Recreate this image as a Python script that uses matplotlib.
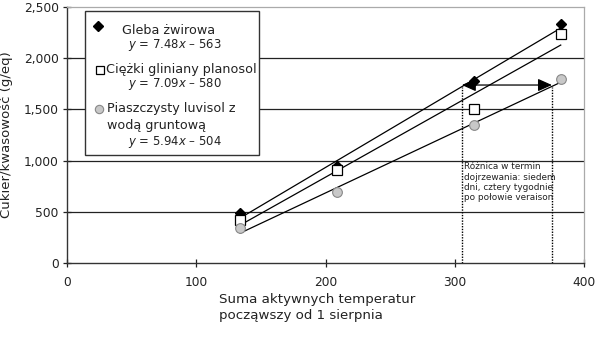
import matplotlib
matplotlib.use("Agg")
import matplotlib.pyplot as plt
from matplotlib.patches import Rectangle
import numpy as np

# ---- data ----
x_vals = [134, 209, 315, 382]
gravel = [490, 950, 1778, 2334]
clay = [416, 905, 1502, 2238]
sandy = [337, 698, 1351, 1796]

slopes = [7.48, 7.09, 5.94]
intercepts = [-563, -580, -504]

series_names = ["Gleba żwirowa", "Ciężki gliniany planosol", "Piaszczysty luvisol z\nwodą gruntową"]
equations = ["$y$ = 7.48$x$ \u2013 563", "$y$ = 7.09$x$ \u2013 580", "$y$ = 5.94$x$ \u2013 504"]

x_ticks = [0, 100, 200, 300, 400]
y_ticks = [0, 500, 1000, 1500, 2000, 2500]
y_tick_labels = ["0", "500", "1,000", "1,500", "2,000", "2,500"]

arrow_y = 1738
arrow_x = [305.5, 375.2]
note = "Różnica w termin\ndojrzewania: siedem\ndni, cztery tygodnie\npo połowie veraison"

plt.rcParams['font.family'] = ['DejaVu Sans']
plt.rcParams['mathtext.fontset'] = 'dejavusans'

fig = plt.figure(figsize=(5.99, 3.44), dpi=100)
ax = fig.add_axes([67/599, 1-263/344, (584-67)/599, (263-7)/344])

ax.set_xlim(0, 400)
ax.set_ylim(0, 2500)

# gridlines
for yv in y_ticks[1:-1]:
    ax.axhline(yv, color='#222222', lw=0.9, zorder=1)

# regression lines
xl = np.array([x_vals[0], x_vals[-1]])
for s, b in zip(slopes, intercepts):
    ax.plot(xl, s*xl + b, color='black', lw=0.9, zorder=2)

# markers
ax.plot(x_vals, gravel, linestyle='none', marker='D', ms=5, mfc='black', mec='black', zorder=4)
ax.plot(x_vals, clay, linestyle='none', marker='s', ms=7, mfc='white', mec='black', mew=0.9, zorder=4)
ax.plot(x_vals, sandy, linestyle='none', marker='o', ms=7, mfc='#c8c8c8', mec='#888888', mew=0.8, zorder=4)

# dotted verticals and double arrow
for xa in arrow_x:
    ax.plot([xa, xa], [0, arrow_y - 20], color='black', lw=1.0, ls=(0, (1, 1)), zorder=3)
ax.annotate('', xy=(arrow_x[0], arrow_y), xytext=(arrow_x[1], arrow_y),
            arrowprops=dict(arrowstyle='<|-|>,head_length=0.85,head_width=0.38',
                            color='black', lw=0.9, shrinkA=0, shrinkB=0), zorder=5)

ax.text(307, 985, note, fontsize=6.4, va='top', ha='left', color='#222222', linespacing=1.2, zorder=5)

# ticks & spines
ax.set_xticks(x_ticks)
ax.set_yticks(y_ticks)
ax.set_yticklabels(y_tick_labels)
ax.tick_params(axis='both', direction='inout', length=6, width=0.9, colors='#222222', labelsize=8.8)
ax.tick_params(axis='x', pad=6)
ax.tick_params(axis='y', pad=3)
for side in ['top', 'right']:
    ax.spines[side].set_color('#aaaaaa')
    ax.spines[side].set_linewidth(0.9)
for side in ['left', 'bottom']:
    ax.spines[side].set_color('#333333')
    ax.spines[side].set_linewidth(1.0)

ax.set_ylabel("Cukier/kwasowość (g/eq)", fontsize=9.5, color='#222222')
ax.yaxis.set_label_coords((13 - 67) / 517, 0.5)
fig.text(219/599, 1-293/344, "Suma aktywnych temperatur\npocząwszy od 1 sierpnia",
         fontsize=9.6, ha='left', va='top', color='#222222', linespacing=1.3)

# legend box (manual)
def fx(px):
    return (px - 67) / 517
def fy(py):
    return (263 - py) / 256

box = Rectangle((fx(85), fy(155)), fx(259) - fx(85), fy(11) - fy(155),
                transform=ax.transAxes, facecolor='white', edgecolor='#333333', lw=1.0, zorder=6)
ax.add_patch(box)

mk = dict(transform=ax.transAxes, linestyle='none', zorder=7, clip_on=False)
ax.plot([fx(98)], [fy(26)], marker='D', ms=5, mfc='black', mec='black', **mk)
ax.plot([fx(100)], [fy(70)], marker='s', ms=6, mfc='white', mec='black', mew=0.9, **mk)
ax.plot([fx(99)], [fy(109)], marker='o', ms=6, mfc='#c8c8c8', mec='#888888', mew=0.8, **mk)

tk = dict(transform=ax.transAxes, fontsize=9.2, color='#222222', zorder=7, va='center', ha='left')
ek = dict(tk, fontsize=8.4)
ax.text(fx(122), fy(31), series_names[0], **tk)
ax.text(fx(106), fy(70), series_names[1], **tk)
ax.text(fx(107), fy(117), series_names[2], linespacing=1.35, **tk)
ax.text(fx(128), fy(45), equations[0], **ek)
ax.text(fx(128), fy(84), equations[1], **ek)
ax.text(fx(128), fy(142), equations[2], **ek)

fig.savefig("out.png", dpi=100)
